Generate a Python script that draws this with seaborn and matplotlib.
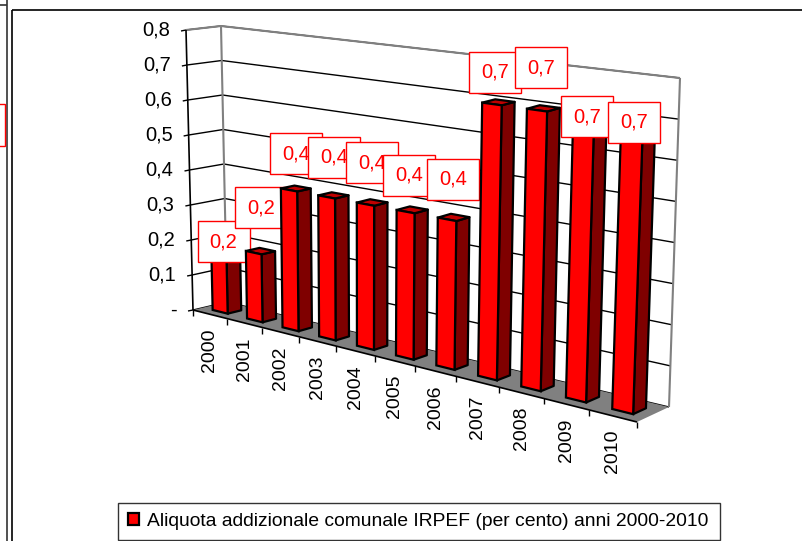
import numpy as np
import pandas as pd
import seaborn as sns
import matplotlib.pyplot as plt
from matplotlib.lines import Line2D
from matplotlib.patches import Polygon, Rectangle
from matplotlib.transforms import Transform, IdentityTransform

# data
anni = ["2000", "2001", "2002", "2003", "2004", "2005", "2006", "2007", "2008", "2009", "2010"]
aliquota = [0.19, 0.19, 0.385, 0.385, 0.385, 0.385, 0.385, 0.7, 0.7, 0.7, 0.7]
y_labels = ["-", "0,1", "0,2", "0,3", "0,4", "0,5", "0,6", "0,7", "0,8"]
y_values = [0, 0.1, 0.2, 0.3, 0.4, 0.5, 0.6, 0.7, 0.8]
legend_text = "Aliquota addizionale comunale IRPEF (per cento) anni 2000-2010"

# layout, image pixels
W, H = 803, 541
FS = 14.5
FS_X = 14
FS_LEG = 13.88
# corners of the 3d box: (front/back, left/right, bottom/top)
FLB, FRB, BLB, BRB = (193, 310), (637, 422), (227, 302), (669, 407)
FLT, FRT, BLT, BRT = (186, 30), (649, 88), (221, 26), (680, 78)
FRONT, BACK = 0.3, 0.7  # depth of the bars
BAR_WIDTH = 0.44
# where each value box sits relative to the top of its bar
label_offset = [(-2, -2), (0.5, -43.5), (0, -35), (0.7, -37.9), (0, -39.9), (-3, -34.8),
                (-0.6, -38.4), (-3, -30.2), (-2, -40.4), (-3.3, 2.1), (-4, 0.9)]
BOX_W, BOX_H = 52, 41


def project(x, v, d):
    # categorical x, value v, depth d to display pixels, with perspective along x
    x, v, d = np.broadcast_arrays(np.asarray(x, float), np.asarray(v, float), np.asarray(d, float))
    s = (x + 0.5) / 11
    w = s / (1.2 - 0.2 * s)
    out = []
    for k in (0, 1):
        bot = ((1 - w) * (1 - d) * FLB[k] + w * (1 - d) * FRB[k] + (1 - w) * d * BLB[k] + w * d * BRB[k])
        top = ((1 - w) * (1 - d) * FLT[k] + w * (1 - d) * FRT[k] + (1 - w) * d * BLT[k] + w * d * BRT[k])
        out.append(bot + (top - bot) * v / 0.8)
    return np.column_stack([out[0].ravel(), H - out[1].ravel()])


class Plane(Transform):
    input_dims = 2
    output_dims = 2

    def __init__(self, plane_depth):
        super().__init__()
        self.plane_depth = plane_depth

    def transform_non_affine(self, xy):
        xy = np.asarray(xy, float)
        return project(xy[:, 0], xy[:, 1], self.plane_depth)


def px(x, y):
    return x, H - y


ident = IdentityTransform()

sns.set_theme(style="white", font="Liberation Sans")
fig = plt.figure(figsize=(W / 100, H / 100), dpi=100)
ax = fig.add_axes([0, 0, 1, 1])

df = pd.DataFrame({"anno": anni, "aliquota": aliquota})
sns.barplot(data=df, x="anno", y="aliquota", color="#ff0000", saturation=1, width=BAR_WIDTH,
            edgecolor="black", linewidth=1.6, label=legend_text, ax=ax)
ax.set_xlim(-0.5, 10.5)
ax.set_ylim(0, 0.8)
ax.set_axis_off()


def line(a, b, color="black", lw=1.0, z=1):
    a, b = np.asarray(a).ravel(), np.asarray(b).ravel()
    ax.add_line(Line2D([a[0], b[0]], [a[1], b[1]], color=color, lw=lw, transform=ident,
                       clip_on=False, zorder=z, solid_capstyle="butt"))


def poly(pts, color, z, edge="black", lw=1.6):
    ax.add_patch(Polygon(pts, closed=True, facecolor=color, edgecolor=edge, lw=lw, transform=ident,
                         clip_on=False, zorder=z, joinstyle="round"))


# outer frames of the sheet
for a, b, c in [((7, 0), (7, H), "#333333"), ((0, 5), (7, 5), "#333333"),
                ((12, 10), (12, H), "black"), ((12, 10), (W, 10), "black")]:
    line(px(*a), px(*b), color=c, lw=1.2)
ax.add_patch(Rectangle(px(-5, 146), 10, 42, facecolor="white", edgecolor="#ff0000", lw=1,
                       transform=ident, clip_on=False, zorder=1))

# walls
L, R = -0.5, 10.5
for v in y_values:
    line(project(L, v, 0), project(L, v, 1))
    line(project(L, v, 1), project(R, v, 1))
    line(project(L, v, 0), project(L, v, 0) + [-5, -1])
    p = project(L, v, 0)[0]
    ax.text(p[0] - 16, p[1], y_labels[y_values.index(v)], transform=ident, ha="right", va="center",
            fontsize=FS, color="black")
for a, b in [((L, 0.8, 0), (L, 0.8, 1)), ((L, 0.8, 1), (R, 0.8, 1)), ((L, 0, 1), (L, 0.8, 1)), ((R, 0, 1), (R, 0.8, 1))]:
    line(project(*a), project(*b), color="#808080", lw=1.5, z=1.5)

# floor and front axes
floor = np.vstack([project(L, 0, 0), project(R, 0, 0), project(R, 0, 1), project(L, 0, 1)])
poly(floor, "#808080", 2, edge="none", lw=0)
line(project(L, 0, 0), project(R, 0, 0), z=2.1, lw=1.2)
line(project(L, 0, 0), project(L, 0.8, 0), z=2.1, lw=1.2)
for k in range(len(anni) + 1):
    p = project(k - 0.5, 0, 0)
    line(p, p + [0, -6], z=2.1)
for i, a in enumerate(anni):
    p = project(i, 0, 0)[0]
    ax.text(p[0], p[1] - 14, a, transform=ident, rotation=90, ha="center", va="top", fontsize=FS_X, color="black")

# bars, each with its value box on top, later ones cover earlier ones
for i, bar in enumerate(ax.patches[:len(anni)]):
    z = 3 + i
    x0, x1, v = bar.get_x(), bar.get_x() + bar.get_width(), bar.get_height()
    bar.set_transform(Plane(FRONT))
    bar.set_clip_on(False)
    bar.set_zorder(z + 0.2)
    side = np.vstack([project(x1, 0, FRONT), project(x1, 0, BACK), project(x1, v, BACK), project(x1, v, FRONT)])
    cap = np.vstack([project(x0, v, FRONT), project(x1, v, FRONT), project(x1, v, BACK), project(x0, v, BACK)])
    poly(side, "#7f0000", z + 0.1)
    poly(cap, "#c00000", z + 0.1)

    anchor = project(i, v, 0.5)[0]
    cx, cy = anchor[0] + label_offset[i][0], anchor[1] - label_offset[i][1]
    ax.add_patch(Rectangle((cx - BOX_W / 2, cy - BOX_H / 2), BOX_W, BOX_H, facecolor="white", edgecolor="#ff0000",
                           lw=1, transform=ident, clip_on=False, zorder=z + 0.5))
    ax.text(cx, cy, f"{v:.1f}".replace(".", ","), transform=ident, ha="center", va="center",
            fontsize=FS, color="#ff0000", zorder=z + 0.6)

# legend, the frame is its own box so the marker can sit close to the left edge
ax.add_patch(Rectangle(px(118, 540), 602, 37, facecolor="white", edgecolor="#333333", lw=1.0,
                       transform=ident, clip_on=False, zorder=29))
leg = ax.legend(loc="center", bbox_to_anchor=(418 / W, 1 - 521.5 / H), bbox_transform=fig.transFigure,
                fontsize=FS_LEG, frameon=False, labelcolor="black",
                handlelength=0.55, handleheight=0.55, handletextpad=0.42, borderpad=0, borderaxespad=0)
leg.set_zorder(30)

fig.savefig("out.png", dpi=100)
